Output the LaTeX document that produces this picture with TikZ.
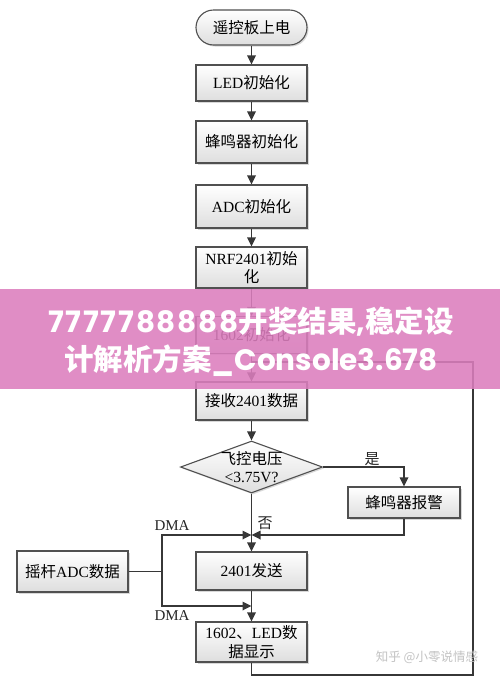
\documentclass[tikz,border=0pt]{standalone}
\usepackage{fontspec}
\setmainfont{Liberation Serif}
\newfontfamily\cjk{Noto Sans CJK SC}
\newfontfamily\pop{Poppins}
\usetikzlibrary{shapes.geometric,arrows.meta,shadows}
\newcommand\zh[1]{{\cjk #1}}
\definecolor{boxline}{RGB}{80,80,80}
\definecolor{boxfill}{RGB}{222,222,222}
\definecolor{linec}{RGB}{55,55,55}
\definecolor{bannerpink}{RGB}{220,126,190}
\definecolor{wmgray}{RGB}{195,195,195}
\begin{document}
\begin{tikzpicture}[x=1pt,y=-1pt,
  box/.style={draw=boxline, line width=1.1pt, top color=white, bottom color=boxfill,
    minimum width=111pt, inner sep=2pt, align=center,
    font=\fontsize{15.5}{18.5}\selectfont,
    drop shadow={shadow xshift=1.5pt, shadow yshift=-1.5pt, fill=black!30}},
  conn/.style={draw=linec, line width=1.7pt},
  arr/.style={conn, -{Triangle[length=9pt,width=8.5pt]}},
  lab/.style={font=\fontsize{15}{17}\selectfont, inner sep=0pt, text=black!85}]
\fill[white] (0,0) rectangle (500,681);
\useasboundingbox (0,0) rectangle (500,681);

% nodes
\node[box, minimum height=35pt, rounded corners=17.5pt] (start) at (251.5,27.5) {\zh{遥控板上电}};
\node[box, minimum height=36pt] (led) at (251.5,83) {LED\zh{初始化}};
\node[box, minimum height=42pt] (buzz) at (251.5,142) {\zh{蜂鸣器初始化}};
\node[box, minimum height=43pt] (adc) at (251.5,206.5) {ADC\zh{初始化}};
\node[box, minimum height=41pt] (nrf) at (251.5,267.5) {NRF2401\zh{初始}\\\zh{化}};
\node[box, minimum height=37pt] (lcd) at (251.5,335) {1602\zh{初始化}};
\node[box, minimum height=38pt] (recv) at (251.5,401) {\zh{接收}2401\zh{数据}};
\node[draw=boxline, line width=1.1pt, top color=white, bottom color=boxfill, diamond,
  minimum width=142pt, minimum height=52pt, inner sep=0pt,
  drop shadow={shadow xshift=1.5pt, shadow yshift=-1.5pt, fill=black!30}] (dia) at (251.5,467) {};
\node[align=center, font=\fontsize{15.5}{18.5}\selectfont, inner sep=0pt] (diat) at (251.5,467) {\zh{飞控电压}\\<3.75V?};
\node[box, minimum width=112pt, minimum height=31pt] (alarm) at (404,502.5) {\zh{蜂鸣器报警}};
\node[box, minimum height=38pt] (send) at (251.5,571) {2401\zh{发送}};
\node[box, minimum height=41pt] (joy) at (72.5,571.5) {\zh{摇杆}ADC\zh{数据}};
\node[box, minimum height=40pt] (disp) at (251.5,642) {1602\zh{、}LED\zh{数}\\\zh{据显示}};

% labels
\node[lab] (yes) at (372,459) {\zh{是}};
\node[lab] (no) at (265,523) {\zh{否}};
\node[lab] (dma1) at (172,526) {DMA};
\node[lab] (dma2) at (172,616) {DMA};

% coordinates
\coordinate (j1) at (251.5,535);
\coordinate (j2) at (251.5,606);
\coordinate (jj) at (162,571.5);
\coordinate (jl) at (251.5,362);
\coordinate (lb) at (251.5,675);
\coordinate (lt) at (473,362);

% connectors
\draw[arr] (start) -- (led);
\draw[arr] (led) -- (buzz);
\draw[arr] (buzz) -- (adc);
\draw[arr] (adc) -- (nrf);
\draw[arr] (nrf) -- (lcd);
\draw[arr] (lcd) -- (recv);
\draw[arr] (recv) -- (dia);
\draw[arr] (dia.east) -| (alarm.north);
\draw[arr] (dia.south) -- (send);
\draw[arr] (alarm.south) |- (j1);
\draw[conn] (joy.east) -- (jj);
\draw[arr] (jj) |- (j1);
\draw[arr] (jj) |- (j2);
\draw[arr] (send) -- (disp);
\draw[conn] (disp.south) -- (lb) -| (lt) -- (jl);

% watermark
\node[font=\fontsize{12.5}{14}\selectfont, text=wmgray, inner sep=0pt] (wm) at (427,657) {\zh{知乎 @小零说情感}};

% banner
\fill[bannerpink, opacity=0.88] (0,289) rectangle (500,389);
\node[text=white, font=\fontsize{29.5}{34}\selectfont\bfseries, inner sep=0pt] (b1) at (251,322) {{\pop\addfontfeature{LetterSpace=6}7777788888}{\cjk 开奖结果}{\pop ,}{\cjk 稳定设}};
\node[text=white, font=\fontsize{29.5}{34}\selectfont\bfseries, inner sep=0pt] (b2) at (251,361) {{\cjk 计解析方案}{\pop \_Console3.678}};
\end{tikzpicture}
\end{document}
